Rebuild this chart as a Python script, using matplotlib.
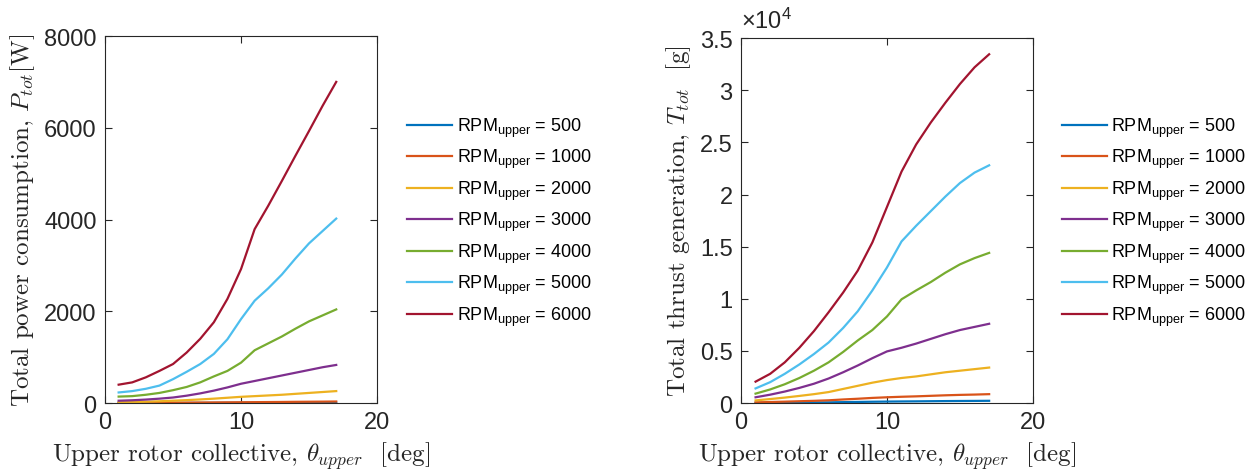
import matplotlib
matplotlib.use("Agg")
import matplotlib.pyplot as plt
from matplotlib.ticker import FuncFormatter

plt.rcParams['font.family'] = ['Liberation Sans', 'DejaVu Sans']
plt.rcParams['mathtext.fontset'] = 'custom'
plt.rcParams['mathtext.rm'] = 'Liberation Sans'
plt.rcParams['mathtext.it'] = 'Liberation Sans:italic'
plt.rcParams['axes.unicode_minus'] = False

# upper rotor collective [deg]
theta = [1, 2, 3, 4, 5, 6, 7, 8, 9, 10, 11, 12, 13, 14, 15, 16, 17]
rpm = [500, 1000, 2000, 3000, 4000, 5000, 6000]

# total power [W]
p500 = [1, 1, 1, 2, 2, 2, 3, 3, 4, 4, 5, 5, 5, 6, 6, 7, 7]
p1000 = [3, 4, 5, 6, 8, 9, 11, 13, 15, 17, 19, 21, 23, 26, 28, 30, 33]
p2000 = [15, 20, 28, 38, 50, 63, 78, 95, 115, 135, 150, 165, 180, 200, 220, 240, 260]
p3000 = [50, 60, 75, 95, 120, 160, 210, 270, 340, 420, 480, 540, 600, 660, 720, 780, 830]
p4000 = [140, 150, 180, 220, 280, 350, 450, 580, 700, 880, 1150, 1300, 1450, 1620, 1780, 1910, 2040]
p5000 = [230, 260, 310, 380, 520, 680, 850, 1070, 1390, 1830, 2230, 2500, 2800, 3150, 3480, 3750, 4020]
p6000 = [400, 450, 560, 700, 850, 1100, 1400, 1760, 2270, 2920, 3790, 4300, 4840, 5390, 5930, 6480, 7000]

# total thrust [g]
t500 = [15, 24, 33, 43, 53, 65, 85, 103, 123, 138, 150, 160, 173, 185, 195, 203, 213]
t1000 = [60, 95, 130, 170, 210, 260, 340, 410, 490, 550, 600, 640, 690, 740, 780, 810, 850]
t2000 = [250, 380, 520, 680, 850, 1050, 1350, 1650, 1950, 2200, 2400, 2550, 2750, 2950, 3100, 3250, 3400]
t3000 = [550, 800, 1100, 1450, 1850, 2350, 2950, 3600, 4300, 4950, 5300, 5700, 6150, 6600, 7000, 7300, 7600]
t4000 = [900, 1300, 1800, 2400, 3100, 3900, 4900, 6000, 7000, 8300, 9950, 10800, 11600, 12500, 13300, 13900, 14400]
t5000 = [1400, 2000, 2800, 3700, 4700, 5800, 7200, 8800, 10800, 13000, 15500, 17000, 18400, 19800, 21100, 22100, 22800]
t6000 = [2050, 2800, 3900, 5300, 6900, 8700, 10600, 12700, 15400, 18800, 22200, 24800, 26900, 28800, 30600, 32200, 33450]

power = [p500, p1000, p2000, p3000, p4000, p5000, p6000]
thrust = [t500, t1000, t2000, t3000, t4000, t5000, t6000]

colors = ['#0072BD', '#D95319', '#EDB120', '#7E2F8E', '#77AC30', '#4DBEEE', '#A2142F']
dark = '#262626'
lab = dict(fontsize=18, family='cmr10', math_fontfamily='cm', color=dark)

fig = plt.figure(figsize=(12.58, 4.77), dpi=100)
ax1 = fig.add_axes([0.0835, 0.153, 0.2162, 0.7694])
ax2 = fig.add_axes([0.589, 0.153, 0.2321, 0.765])

for ax, data in [(ax1, power), (ax2, thrust)]:
    for r, y, c in zip(rpm, data, colors):
        ax.plot(theta, y, color=c, lw=1.6, label=r'RPM$_{\mathrm{upper}}$ = %d' % r)
    ax.set_xlim(0, 20)
    ax.set_xticks([0, 10, 20])
    ax.tick_params(direction='in', top=True, right=True, length=5, width=0.8,
                   labelsize=17, colors=dark, labelcolor=dark, pad=6)
    for s in ax.spines.values():
        s.set_color(dark)
        s.set_linewidth(0.8)
    ax.set_xlabel(r'Upper rotor collective, $\theta_{upper}$  [deg]', labelpad=4, **lab)

ax1.set_ylim(0, 8000)
ax1.set_yticks([0, 2000, 4000, 6000, 8000])
ax1.set_ylabel(r'Total power consumption, $P_{tot}$[W]', labelpad=5, **lab)

ax2.set_ylim(0, 35000)
ax2.set_yticks([0, 5000, 10000, 15000, 20000, 25000, 30000, 35000])
ax2.yaxis.set_major_formatter(FuncFormatter(lambda v, p: '%g' % (v / 1e4)))
ax2.set_ylabel(r'Total thrust generation, $T_{tot}$  [g]', labelpad=5, **lab)
ax2.text(0.0, 1.015, r'$\times10^4$', transform=ax2.transAxes, fontsize=17,
         color=dark, ha='left', va='bottom')

for ax, x0 in [(ax1, 0.3235), (ax2, 0.844)]:
    ax.legend(loc='center left', bbox_to_anchor=(x0, 0.533), bbox_transform=fig.transFigure,
              frameon=False, fontsize=13, handlelength=2.5, handletextpad=0.25,
              borderpad=0, borderaxespad=0, labelspacing=0.46)

fig.savefig('out.png', dpi=100)
